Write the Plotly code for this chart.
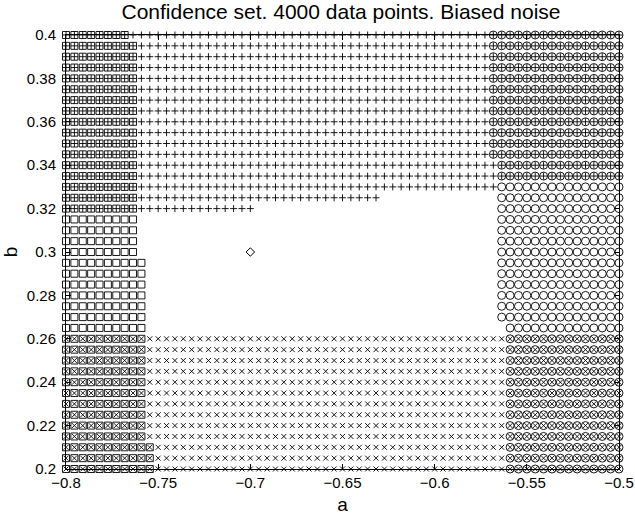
import numpy as np
import plotly.graph_objects as go

# ---- data ----
# parameter grid
A_MIN, A_MAX, A_COUNT = -0.8, -0.5, 67
B_MIN, B_MAX, B_COUNT = 0.2, 0.4, 41

# each set: rows (b_low, b_high, a_low, a_high) of grid points that belong to it
square_rows = [
    (0.400, 0.400, -0.8, -0.7682),
    (0.300, 0.395, -0.8, -0.7636),
    (0.215, 0.295, -0.8, -0.7591),
    (0.200, 0.210, -0.8, -0.7545),
]
plus_rows = [
    (0.335, 0.400, -0.8, -0.5),
    (0.330, 0.330, -0.8, -0.5682),
    (0.325, 0.325, -0.8, -0.6318),
    (0.320, 0.320, -0.8, -0.7000),
]
circle_rows = [
    (0.345, 0.400, -0.5682, -0.5),
    (0.270, 0.340, -0.5636, -0.5),
    (0.200, 0.265, -0.5591, -0.5),
]
cross_rows = [
    (0.200, 0.260, -0.8, -0.5),
]
true_a = [-0.7]
true_b = [0.3]

x_ticks = [-0.8, -0.75, -0.7, -0.65, -0.6, -0.55, -0.5]
y_ticks = [0.2, 0.22, 0.24, 0.26, 0.28, 0.3, 0.32, 0.34, 0.36, 0.38, 0.4]

title = "Confidence set. 4000 data points. Biased noise"

# ---- build points ----
a_grid = np.linspace(A_MIN, A_MAX, A_COUNT)
b_grid = np.linspace(B_MIN, B_MAX, B_COUNT)
AA, BB = np.meshgrid(a_grid, b_grid)
AA, BB = AA.ravel(), BB.ravel()
eps = 1e-4


def members(rows):
    mask = np.zeros(AA.shape, dtype=bool)
    for bl, bh, al, ah in rows:
        mask |= (BB >= bl - eps) & (BB <= bh + eps) & (AA >= al - eps) & (AA <= ah + eps)
    return AA[mask], BB[mask]


fig = go.Figure()

def add(rows, symbol, size):
    xs, ys = members(rows)
    fig.add_trace(go.Scatter(
        x=xs, y=ys, mode="markers", showlegend=False, hoverinfo="skip",
        cliponaxis=False,
        marker=dict(symbol=symbol, size=size, color="black",
                    line=dict(width=0.9, color="black")),
    ))

add(square_rows, "square-open", 7)
add(plus_rows, "cross-thin-open", 5)
add(circle_rows, "circle-open", 8)
add(cross_rows, "x-thin-open", 5)

fig.add_trace(go.Scatter(
    x=true_a, y=true_b, mode="markers", showlegend=False, hoverinfo="skip",
    marker=dict(symbol="diamond-open", size=6.5, color="black",
                line=dict(width=1, color="black")),
))

font = "Liberation Sans, Arial, sans-serif"
axis_common = dict(
    showgrid=False, zeroline=False, showline=True, linecolor="black",
    linewidth=1, mirror="ticks", ticks="inside", ticklen=5, tickcolor="black",
    tickfont=dict(family=font, size=15, color="black"), automargin=False,
)

fig.update_layout(
    width=635, height=515,
    margin=dict(l=66, r=16, t=35, b=46),
    paper_bgcolor="white", plot_bgcolor="white",
    title=dict(text=title, x=0.537, xanchor="center", y=0.992, yanchor="top",
               font=dict(family=font, size=21, color="black")),
    xaxis=dict(range=[A_MIN, A_MAX], tickvals=x_ticks,
               title=dict(text="a", font=dict(family=font, size=19, color="black"), standoff=7),
               **axis_common),
    yaxis=dict(range=[B_MIN, B_MAX], tickvals=y_ticks, ticklabelstandoff=6,
               title=dict(text="b", font=dict(family=font, size=19, color="black"), standoff=4),
               **axis_common),
)

fig.write_html("out.html")
